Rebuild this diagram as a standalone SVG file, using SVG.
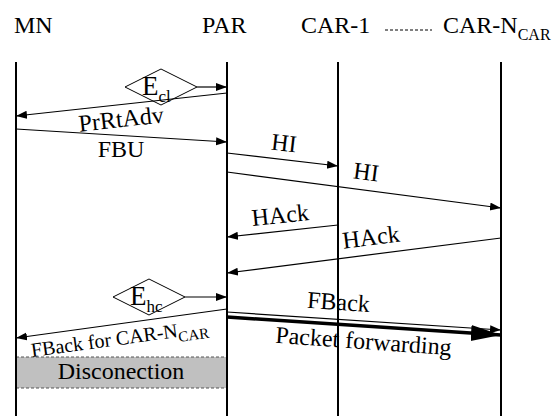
<svg xmlns="http://www.w3.org/2000/svg" width="555" height="416" viewBox="0 0 555 416">
<defs>
<marker id="ah" markerUnits="userSpaceOnUse" markerWidth="12" markerHeight="10" refX="11" refY="4" orient="auto">
<path d="M0,0 L11,4 L0,8 Z" fill="#000"/>
</marker>
<marker id="ahBig" markerUnits="userSpaceOnUse" markerWidth="32" markerHeight="18" refX="30" refY="8" orient="auto">
<path d="M0,0 L30,8 L0,16 Z" fill="#000"/>
</marker>
<style>
text{font-family:"Liberation Serif","Times New Roman",serif;fill:#000}
.t{font-size:24px}
.l{font-size:24px;text-anchor:middle}
.s{font-size:20px}
.life{stroke:#000;stroke-width:2}
.msg{stroke:#000;stroke-width:1.2;fill:none;marker-end:url(#ah)}
.dia{fill:#fff;stroke:#000;stroke-width:1}
</style>
</defs>
<rect width="555" height="416" fill="#fff"/>

<g id="disconnection">
<rect x="16" y="357" width="211" height="31" fill="#c0c0c0" stroke="#555" stroke-width="1" stroke-dasharray="3,2"/>
<text class="l" x="121" y="379">Disconection</text>
</g>

<g id="MN">
<text class="t" x="14" y="33">MN</text>
<line class="life" x1="16" y1="62" x2="16" y2="416"/>
</g>
<g id="PAR">
<text class="t" x="202" y="33">PAR</text>
<line class="life" x1="227" y1="62" x2="227" y2="416"/>
</g>
<g id="CAR-1">
<text class="t" x="301" y="33">CAR-1</text>
<line class="life" x1="338" y1="62" x2="338" y2="416"/>
</g>
<g id="CAR-N">
<line x1="385" y1="30" x2="432" y2="30" stroke="#000" stroke-width="1" stroke-dasharray="3,2"/>
<text class="t" x="443" y="33">CAR-N<tspan font-size="16" dy="7">CAR</tspan></text>
<line class="life" x1="501" y1="62" x2="501" y2="416"/>
</g>

<g id="E_cl">
<polygon class="dia" points="125,87 161,69 197,87 161,105"/>
<text x="142" y="95" font-size="27">E<tspan font-size="17" dy="7">cl</tspan></text>
</g>
<g id="E_hc">
<polygon class="dia" points="113,297 149,279 185,297 149,315"/>
<text x="130" y="305" font-size="27">E<tspan font-size="17" dy="7">hc</tspan></text>
</g>

<g id="connectors">
<line class="msg" x1="197" y1="87" x2="227" y2="87"/>
<line class="msg" x1="227" y1="93" x2="16" y2="116"/>
<line class="msg" x1="16" y1="129" x2="227" y2="142"/>
<line class="msg" x1="227" y1="153" x2="338" y2="166"/>
<line class="msg" x1="227" y1="172" x2="501" y2="208"/>
<line class="msg" x1="338" y1="225" x2="227" y2="237"/>
<line class="msg" x1="501" y1="238" x2="227" y2="273"/>
<line class="msg" x1="185" y1="297" x2="227" y2="297"/>
<line class="msg" x1="227" y1="309" x2="16" y2="338"/>
<line class="msg" x1="227" y1="312" x2="501" y2="330"/>
<line x1="227" y1="317" x2="501" y2="335" stroke="#000" stroke-width="3.5" marker-end="url(#ahBig)"/>
</g>

<g id="labels">
<text class="l" transform="translate(122,127) rotate(-6.3)">PrRtAdv</text>
<text class="l" x="121" y="157">FBU</text>
<text class="l" transform="translate(283,151) rotate(6.6)">HI</text>
<text class="l" transform="translate(365,180) rotate(7.5)">HI</text>
<text class="l" transform="translate(281,223) rotate(-5.9)">HAck</text>
<text class="l" transform="translate(372,245) rotate(-7.3)">HAck</text>
<text class="l" transform="translate(338,310) rotate(4)">FBack</text>
<text class="l" transform="translate(363,349) rotate(4.1)">Packet forwarding</text>
<text class="s" transform="translate(32,357) rotate(-7.8)">FBack for CAR-N<tspan font-size="15" dy="5">CAR</tspan></text>
</g>
</svg>
